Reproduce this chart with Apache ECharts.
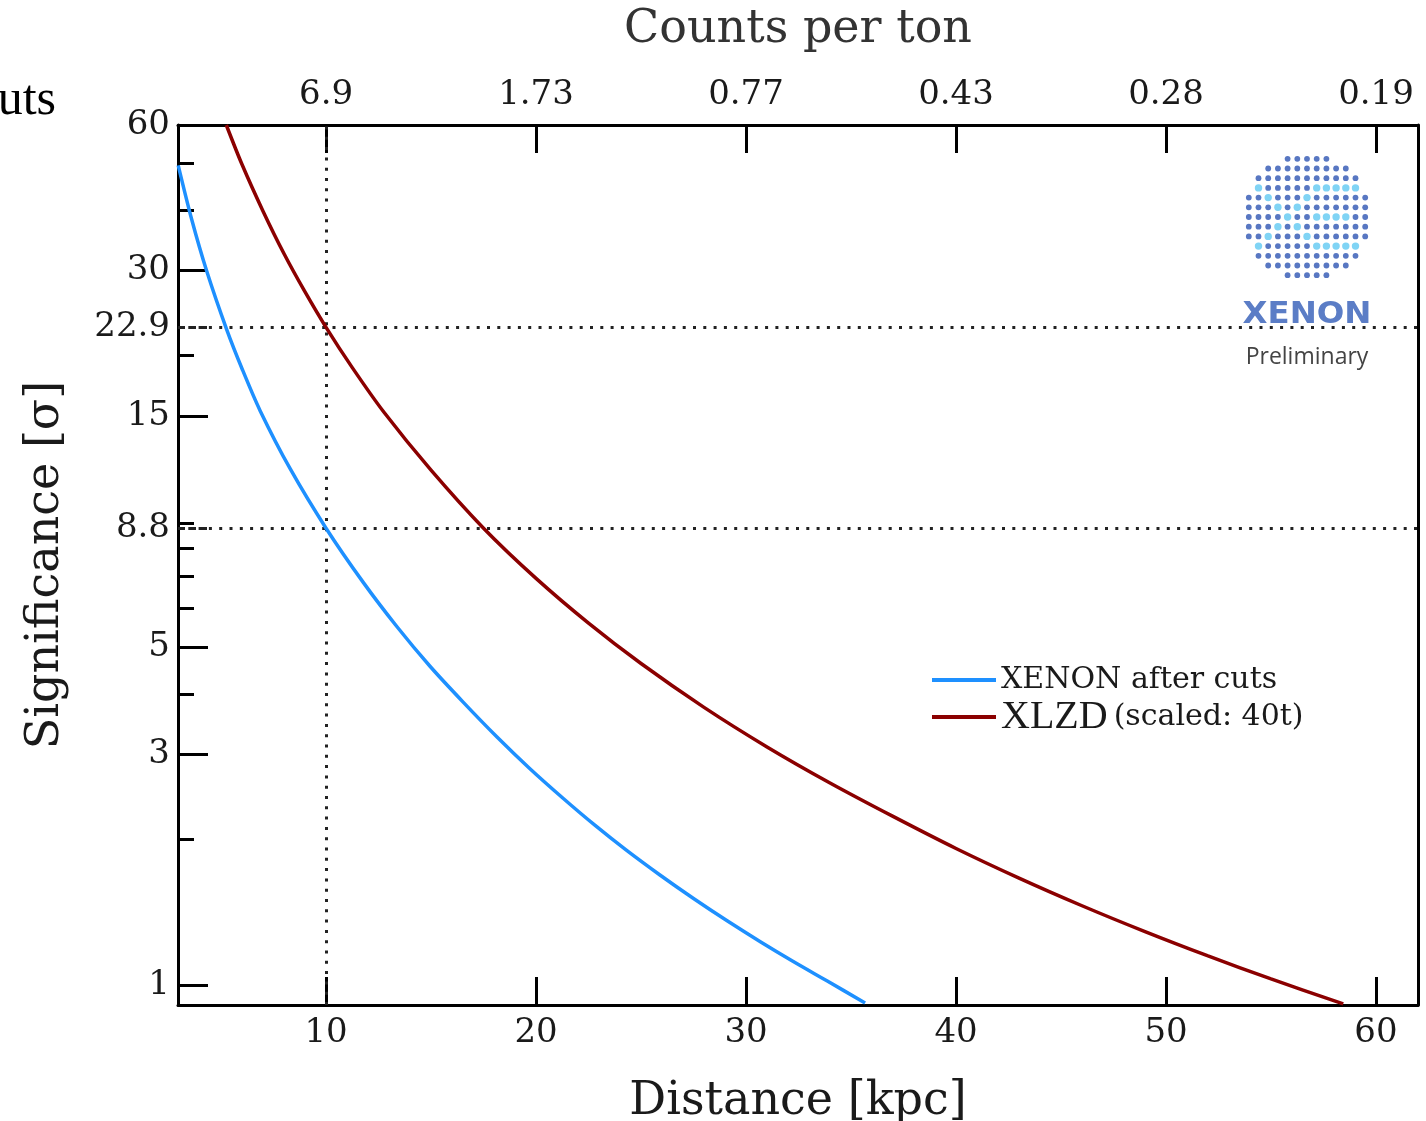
<!DOCTYPE html>
<html>
<head>
<meta charset="utf-8">
<script src="https://cdn.jsdelivr.net/npm/echarts@6/dist/echarts.min.js"></script>
<style>
html, body { margin: 0; padding: 0; background: #fff; }
#c2 { width: 1426px; height: 1121px; }
</style>
</head>
<body>
<div id="c2"></div>
<script>
// curves: distance [kpc] -> significance [sigma]
var xenonDist = [2.96, 3.6, 4.32, 5.27, 6, 6.86, 8.29, 10, 11.78, 13.37, 14.95, 16.54, 18.13, 19.71, 21.3, 22.8, 24.3, 25.9, 27.5, 29.1, 30.7, 32.25, 33.85, 35.67];
var xenonSig = [49.5, 38.3, 29.9, 22.65, 18.8, 15.4, 11.68, 8.8, 6.79, 5.51, 4.56, 3.84, 3.26, 2.8, 2.43, 2.14, 1.9, 1.688, 1.509, 1.357, 1.227, 1.118, 1.02, 0.918];
var xlzdDist = [5.25, 6, 7, 8, 9, 10, 11.25, 12.75, 15, 17.5, 20, 22.5, 25, 28, 31, 34, 37, 40, 43, 46, 49, 52, 55, 58.44];
var xlzdSig = [60, 49.7, 39.8, 32.5, 27.1, 22.9, 18.9, 15.3, 11.6, 8.8, 6.93, 5.6, 4.62, 3.75, 3.106, 2.616, 2.231, 1.915, 1.663, 1.458, 1.289, 1.148, 1.029, 0.914];

var seriesNames = ['XENON after cuts', 'XLZD (scaled: 40t)'];
var distTicks = [10, 20, 30, 40, 50, 60];
var countsLabels = ['6.9', '1.73', '0.77', '0.43', '0.28', '0.19'];
var sigmaMajor = [1, 3, 5, 15, 30, 60];
var sigmaMarked = [8.8, 22.9];
var sigmaMinor = [2, 4, 6, 7, 8, 9, 20, 40, 50];
var markDistance = [10];

var serif = 'DejaVu Serif';
var ink = '#1a1a1a';

function pairs(xs, ys) {
    return xs.map(function (x, i) { return [x, ys[i]]; });
}

// XENON logo: dot matrix disc with an "XE" in light blue
var logo = [];
var light = {};
for (var k = 0; k <= 6; k++) {
    light[(1 + k) + ',' + (3 + k)] = 1;
    light[(7 - k) + ',' + (3 + k)] = 1;
}
for (var c = 7; c <= 11; c++) { light[c + ',3'] = 1; light[c + ',9'] = 1; }
for (var c = 7; c <= 10; c++) { light[c + ',6'] = 1; }
for (var r = 0; r <= 12; r++) {
    for (var c = 0; c <= 12; c++) {
        if ((c - 6) * (c - 6) + (r - 6) * (r - 6) > 6.6 * 6.6) continue;
        var isLight = light[c + ',' + r];
        logo.push({
            type: 'circle',
            shape: { cx: 1307 + (c - 6) * 9.7, cy: 217 + (r - 6) * 9.7, r: isLight ? 3.7 : 2.9 },
            style: { fill: isLight ? '#80d4f5' : '#5877c2' },
            z: 100
        });
    }
}
logo.push({
    type: 'text', x: 1307, y: 315, scaleX: 1.08, z: 101,
    style: { text: 'XENON', fontFamily: 'DejaVu Sans', fontWeight: 'bold', fontSize: 30,
        fill: '#5b7dc6', align: 'center', verticalAlign: 'middle' }
});
logo.push({
    type: 'text', x: 1307, y: 357, z: 101,
    style: { text: 'Preliminary', fontFamily: 'Open Sans', fontSize: 23,
        fill: '#444', align: 'center', verticalAlign: 'middle' }
});
// clipped text from the slide on the left
logo.push({
    type: 'text', x: 56, y: 101, z: 101,
    style: { text: 'cuts', fontFamily: 'Liberation Serif', fontSize: 50,
        fill: '#000', align: 'right', verticalAlign: 'middle' }
});

var ec = echarts.init(document.getElementById('c2'));
var frameLine = { show: true, lineStyle: { color: '#000', width: 3 } };
var dotted = { color: '#222', width: 3, type: [3, 7.3], cap: 'butt' };

var option = {
    animation: false,
    backgroundColor: '#fff',
    grid: { left: 178, right: 8, top: 125, bottom: 116, outerBoundsMode: 'none', containLabel: false },
    legend: {
        orient: 'vertical',
        left: 927,
        top: 659,
        itemWidth: 64,
        itemHeight: 4,
        itemGap: 1,
        icon: 'rect',
        data: seriesNames,
        formatter: function (name) {
            var p = name.split(' (');
            if (p.length > 1) return '{a|' + p[0] + '}{b|(' + p[1] + '}';
            return name;
        },
        textStyle: {
            fontFamily: serif, fontSize: 30, color: ink, lineHeight: 32,
            rich: {
                a: { fontFamily: 'Liberation Serif', fontSize: 40, color: ink, lineHeight: 32 },
                b: { fontFamily: serif, fontSize: 30, color: ink, lineHeight: 32, padding: [0, 0, 0, 6] }
            }
        }
    },
    xAxis: [
        {
            type: 'value', position: 'bottom', min: 2.95, max: 62,
            name: 'Distance [kpc]', nameLocation: 'middle', nameGap: 74,
            nameTextStyle: { fontFamily: serif, fontSize: 46, color: ink },
            axisLine: frameLine,
            axisTick: { inside: true, length: 28, customValues: distTicks, lineStyle: { color: '#000', width: 3 } },
            axisLabel: { customValues: distTicks, margin: 11, fontFamily: serif, fontSize: 34, color: ink },
            splitLine: { show: false }
        },
        {
            type: 'value', position: 'top', min: 2.95, max: 62,
            name: 'Counts per ton', nameLocation: 'middle', nameGap: 72,
            nameTextStyle: { fontFamily: serif, fontSize: 46, color: '#333' },
            axisLine: frameLine,
            axisTick: { inside: true, length: 28, customValues: distTicks, lineStyle: { color: '#000', width: 3 } },
            axisLabel: {
                customValues: distTicks, margin: 13, fontFamily: serif, fontSize: 34, color: ink,
                formatter: function (v) {
                    for (var i = 0; i < distTicks.length; i++) {
                        if (Math.abs(distTicks[i] - v) < 1e-6) return countsLabels[i];
                    }
                    return '';
                }
            },
            splitLine: { show: false }
        }
    ],
    yAxis: [
        {
            type: 'log', logBase: 10, min: 0.909, max: 60, position: 'left',
            name: 'Significance [σ]', nameLocation: 'middle', nameGap: 109,
            nameTextStyle: { fontFamily: serif, fontSize: 46, color: ink },
            axisLine: frameLine,
            axisTick: { inside: true, length: 30, customValues: sigmaMajor, lineStyle: { color: '#000', width: 3 } },
            axisLabel: { customValues: sigmaMajor.concat(sigmaMarked), margin: 8, fontFamily: serif, fontSize: 34, color: ink },
            minorTick: { show: false },
            splitLine: { show: false }
        },
        {
            type: 'log', logBase: 10, min: 0.909, max: 60, position: 'left',
            axisLine: { show: false },
            axisTick: { inside: true, length: 16, customValues: sigmaMinor, lineStyle: { color: '#000', width: 3 } },
            axisLabel: { show: false },
            splitLine: { show: false }
        },
        {
            type: 'log', logBase: 10, min: 0.909, max: 60, position: 'left',
            axisLine: { show: false },
            axisTick: { inside: true, length: 32, customValues: sigmaMarked, lineStyle: { color: '#222', width: 3, type: [7, 4] } },
            axisLabel: { show: false },
            splitLine: { show: false }
        },
        {
            type: 'log', logBase: 10, min: 0.909, max: 60, position: 'right',
            axisLine: frameLine,
            axisTick: { show: false },
            axisLabel: { show: false },
            splitLine: { show: false }
        }
    ],
    series: [
        {
            name: seriesNames[0],
            type: 'line',
            xAxisIndex: 0, yAxisIndex: 0,
            data: pairs(xenonDist, xenonSig),
            showSymbol: false,
            smooth: 0.3,
            lineStyle: { color: '#1e90ff', width: 3.5 },
            itemStyle: { color: '#1e90ff' },
            z: 5,
            markLine: {
                silent: true,
                symbol: 'none',
                label: { show: false },
                lineStyle: dotted,
                data: markDistance.map(function (d) { return { xAxis: d }; })
                    .concat(sigmaMarked.map(function (s) { return { yAxis: s }; }))
            }
        },
        {
            name: seriesNames[1],
            type: 'line',
            xAxisIndex: 0, yAxisIndex: 0,
            data: pairs(xlzdDist, xlzdSig),
            showSymbol: false,
            smooth: 0.3,
            lineStyle: { color: '#8b0000', width: 3.5 },
            itemStyle: { color: '#8b0000' },
            z: 5
        }
    ],
    graphic: logo
};
ec.setOption(option);
</script>
</body>
</html>
